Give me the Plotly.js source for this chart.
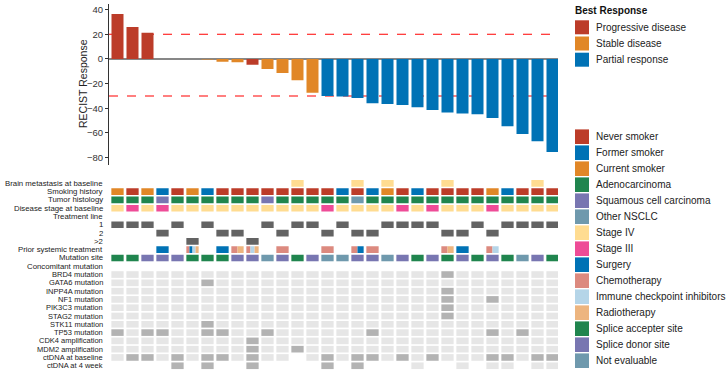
<!DOCTYPE html>
<html>
<head>
<meta charset="utf-8">
<script src="https://cdn.plot.ly/plotly-3.0.1.min.js"></script>
<style>html,body{margin:0;padding:0;background:#fff;}#chart{width:728px;height:377px;}</style>
</head>
<body>
<div id="chart"></div>
<script>
// ---------------- DATA ----------------
const patients = Array.from({length: 30}, (_, i) => i + 1);
const recist = [36.5, 26, 21.3, 0, 0, 0, -0.5, -2.2, -2.7, -4.6, -8.1, -11.4, -17.3, -27.3,
  -30, -30.5, -31.6, -35.9, -36.5, -37.3, -39.2, -41.4, -43.5, -44.3, -44.9, -47.9, -54.6, -60.8, -66.8, -75.4];
const bestResponse = ["PD","PD","PD","SD","SD","SD","SD","SD","SD","PD","SD","SD","SD","SD",
  "PR","PR","PR","PR","PR","PR","PR","PR","PR","PR","PR","PR","PR","PR","PR","PR"];
const responseCodes = ["PD", "SD", "PR"];
const responseLabels = ["Progressive disease", "Stable disease", "Partial response"];

const brainMetastasis = [13, 17, 19, 23, 29];
const smoking = ["C","N","C","F","N","C","F","N","N","N","N","N","N","N","N","F","N","F","C","N","F","N","N","N","N","C","F","N","N","N"];
const histology = ["A","A","A","S","A","A","A","A","A","A","S","A","A","A","A","A","O","A","A","A","A","A","A","A","A","A","A","A","A","A"];
const stage = ["IV","III","IV","III","IV","IV","IV","IV","IV","IV","IV","IV","IV","IV","III","IV","IV","IV","IV","III","IV","III","IV","IV","IV","III","IV","IV","IV","IV"];
const treatmentLine = ["1","1","1","2","1",">2","1","2","2",">2","1","2","1","1","2","1","2","2","1","1","1","1","2","2","1","2","1","1","1","1"];
const priorTreatment = {4:["S"], 6:["C","S","I","R"], 8:["S"], 9:["C","R"], 10:["C","I","R"], 12:["C"],
  15:["C"], 17:["C","S"], 18:["C"], 23:["C","R"], 24:["S"], 26:["C","I"]};
const mutationSite = ["A","A","D","D","D","A","A","A","D","D","N","D","A","D","N","N","D","D","N","D","A","D","A","D","A","D","A","N","D","A"];

const geneRows = ["BRD4 mutation","GATA6 mutation","INPP4A mutation","NF1 mutation","PIK3C3 mutation","STAG2 mutation",
  "STK11 mutation","TP53 mutation","CDK4 amplification","MDM2 amplification"];
const geneHits = [[23],[7],[23],[23,26],[23],[23],[7],[1,3,4,7,8,11,18,26,28],[10],[10,13]];
const ctdnaBaselineMissing = [13];
const ctdnaBaselinePositive = [2,3,5,7,8,10,15,17,18,20,22,26,27,29,30];
const ctdna4wPresent = [5,7,10,15,17,21,24,26,27,29,30];
const ctdna4wPositive = [5,7,10,15,17];

const rowLabels = ["Brain metastasis at baseline","Smoking history","Tumor histology","Disease stage at baseline",
  "Treatment line","1","2",">2","Prior systemic treatment","Mutation site","Concomitant mutation",
  "BRD4 mutation","GATA6 mutation","INPP4A mutation","NF1 mutation","PIK3C3 mutation","STAG2 mutation",
  "STK11 mutation","TP53 mutation","CDK4 amplification","MDM2 amplification","ctDNA at baseline","ctDNA at 4 week"];

const legend2Labels = ["Never smoker","Former smoker","Current smoker","Adenocarcinoma","Squamous cell carcinoma",
  "Other NSCLC","Stage IV","Stage III","Surgery","Chemotherapy","Immune checkpoint inhibitors","Radiotherapy",
  "Splice accepter site","Splice donor site","Not evaluable"];

// ---------------- STYLE ----------------
const responseColors = {PD:"#BC3C29", SD:"#E18727", PR:"#0072B5"};
const smokingColors = {N:"#BC3C29", F:"#0072B5", C:"#E18727"};
const histColors = {A:"#20854E", S:"#7876B1", O:"#6F99AD"};
const stageColors = {IV:"#FFDC91", III:"#EE4C97"};
const priorColors = {S:"#0072B5", C:"#DC8A7F", I:"#B5D5E8", R:"#EDB57F"};
const siteColors = {A:"#20854E", D:"#7876B1", N:"#6F99AD"};
const legend2Colors = ["#BC3C29","#0072B5","#E18727","#20854E","#7876B1","#6F99AD","#FFDC91","#EE4C97",
  "#0072B5","#DC8A7F","#B5D5E8","#EDB57F","#20854E","#7876B1","#6F99AD"];
const lineColor = "#636363", lightGray = "#E6E6E6", darkGray = "#B3B3B3";
const FONT = "Liberation Sans, Arial, sans-serif";
const W = 728, H = 377;
const px = x => x / W, py = y => 1 - y / H;
const cellW = 0.82, cellH = 0.8;

// ---------------- TRACES ----------------
const traces = [];
responseCodes.forEach(code => {
  const xs = [], ys = [];
  patients.forEach((p, i) => { if (bestResponse[i] === code) { xs.push(p); ys.push(recist[i]); } });
  traces.push({type:"bar", x:xs, y:ys, width:0.8, marker:{color:responseColors[code], line:{width:0}},
    xaxis:"x", yaxis:"y", hoverinfo:"skip", showlegend:false});
});

function rowTrace(row, xs, colors, widths, offsets) {
  const t = {type:"bar", x:xs, y:xs.map(() => cellH), base:xs.map(() => row - cellH / 2),
    width: widths || cellW, marker:{color:colors, line:{width:0}},
    xaxis:"x", yaxis:"y2", hoverinfo:"skip", showlegend:false};
  if (offsets) t.offset = offsets;
  return t;
}
const rowIdx = name => rowLabels.indexOf(name);

traces.push(rowTrace(rowIdx("Brain metastasis at baseline"), brainMetastasis, "#FFDC91"));
traces.push(rowTrace(rowIdx("Smoking history"), patients, smoking.map(s => smokingColors[s])));
traces.push(rowTrace(rowIdx("Tumor histology"), patients, histology.map(s => histColors[s])));
traces.push(rowTrace(rowIdx("Disease stage at baseline"), patients, stage.map(s => stageColors[s])));
["1","2",">2"].forEach(l => {
  const xs = patients.filter((p, i) => treatmentLine[i] === l);
  traces.push(rowTrace(rowIdx(l), xs, lineColor));
});
{
  const xs = [], cols = [], ws = [], offs = [];
  Object.keys(priorTreatment).forEach(k => {
    const parts = priorTreatment[k], n = parts.length;
    parts.forEach((c, j) => {
      xs.push(Number(k)); cols.push(priorColors[c]); ws.push(cellW / n); offs.push(-cellW / 2 + j * cellW / n);
    });
  });
  traces.push(rowTrace(rowIdx("Prior systemic treatment"), xs, cols, ws, offs));
}
traces.push(rowTrace(rowIdx("Mutation site"), patients, mutationSite.map(s => siteColors[s])));
geneRows.forEach((g, gi) => {
  traces.push(rowTrace(rowIdx(g), patients, patients.map(p => geneHits[gi].includes(p) ? darkGray : lightGray)));
});
{
  const xs = patients.filter(p => !ctdnaBaselineMissing.includes(p));
  traces.push(rowTrace(rowIdx("ctDNA at baseline"), xs, xs.map(p => ctdnaBaselinePositive.includes(p) ? darkGray : lightGray)));
  traces.push(rowTrace(rowIdx("ctDNA at 4 week"), ctdna4wPresent, ctdna4wPresent.map(p => ctdna4wPositive.includes(p) ? darkGray : lightGray)));
}

// ---------------- LAYOUT ----------------
const shapes = [
  {type:"line", xref:"x domain", x0:0, x1:1, yref:"y", y0:0, y1:0, line:{color:"#111", width:1.2}, layer:"below"},
  {type:"line", xref:"x domain", x0:0, x1:1, yref:"y", y0:20, y1:20, line:{color:"#FF0000", width:1.1, dash:"dash"}, layer:"below"},
  {type:"line", xref:"x domain", x0:0, x1:1, yref:"y", y0:-30, y1:-30, line:{color:"#FF0000", width:1.1, dash:"dash"}, layer:"below"}
];
const annotations = [];
rowLabels.forEach((lab, i) => {
  annotations.push({xref:"paper", yref:"y2", x:px(104), y:i, xanchor:"right", yanchor:"middle", text:lab,
    showarrow:false, borderpad:0, font:{family:FONT, size: i < 11 ? 7.8 : 7.5, color:"#222"}});
});
annotations.push({xref:"paper", yref:"paper", x:px(83), y:py(84), text:"RECIST Response", textangle:-90,
  showarrow:false, xanchor:"center", yanchor:"middle", font:{family:FONT, size:10.5, color:"#222"}});
// Legend 1
annotations.push({xref:"paper", yref:"paper", x:px(573), y:py(10), text:"<b>Best Response</b>", showarrow:false,
  xanchor:"left", yanchor:"middle", font:{family:FONT, size:10, color:"#111"}});
responseCodes.forEach((c, i) => {
  const cy = 27.3 + 16.2 * i;
  shapes.push({type:"rect", xref:"paper", yref:"paper", x0:px(575), x1:px(589), y0:py(cy - 7), y1:py(cy + 7),
    fillcolor:responseColors[c], line:{width:0}});
  annotations.push({xref:"paper", yref:"paper", x:px(594), y:py(cy), text:responseLabels[i], showarrow:false,
    xanchor:"left", yanchor:"middle", font:{family:FONT, size:10, color:"#222"}});
});
// Legend 2
legend2Labels.forEach((lab, i) => {
  const cy = 136.7 + 16 * i;
  shapes.push({type:"rect", xref:"paper", yref:"paper", x0:px(575), x1:px(589), y0:py(cy - 7.3), y1:py(cy + 7.3),
    fillcolor:legend2Colors[i], line:{width:0}});
  annotations.push({xref:"paper", yref:"paper", x:px(594), y:py(cy), text:lab, showarrow:false,
    xanchor:"left", yanchor:"middle", font:{family:FONT, size:10, color:"#222"}});
});

const layout = {
  width:W, height:H, margin:{l:0, r:0, t:0, b:0}, paper_bgcolor:"#fff", plot_bgcolor:"#fff",
  barmode:"overlay", showlegend:false, font:{family:FONT},
  xaxis:{domain:[px(109), px(558)], range:[0.433, 30.367], visible:false, fixedrange:true, anchor:"y"},
  yaxis:{domain:[py(165), py(3.5)], range:[-86, 45], tickvals:[-80,-60,-40,-20,0,20,40], showgrid:false,
    zeroline:false, showline:true, linecolor:"#333", linewidth:1, ticks:"outside", ticklen:3, tickcolor:"#333",
    tickfont:{family:FONT, size:9.5, color:"#333"}, anchor:"x"},
  yaxis2:{domain:[py(369.9), py(179.2)], range:[22.5, -0.5], visible:false, anchor:"x"},
  shapes:shapes, annotations:annotations
};
Plotly.newPlot("chart", traces, layout, {staticPlot:true, displayModeBar:false});
</script>
</body>
</html>
